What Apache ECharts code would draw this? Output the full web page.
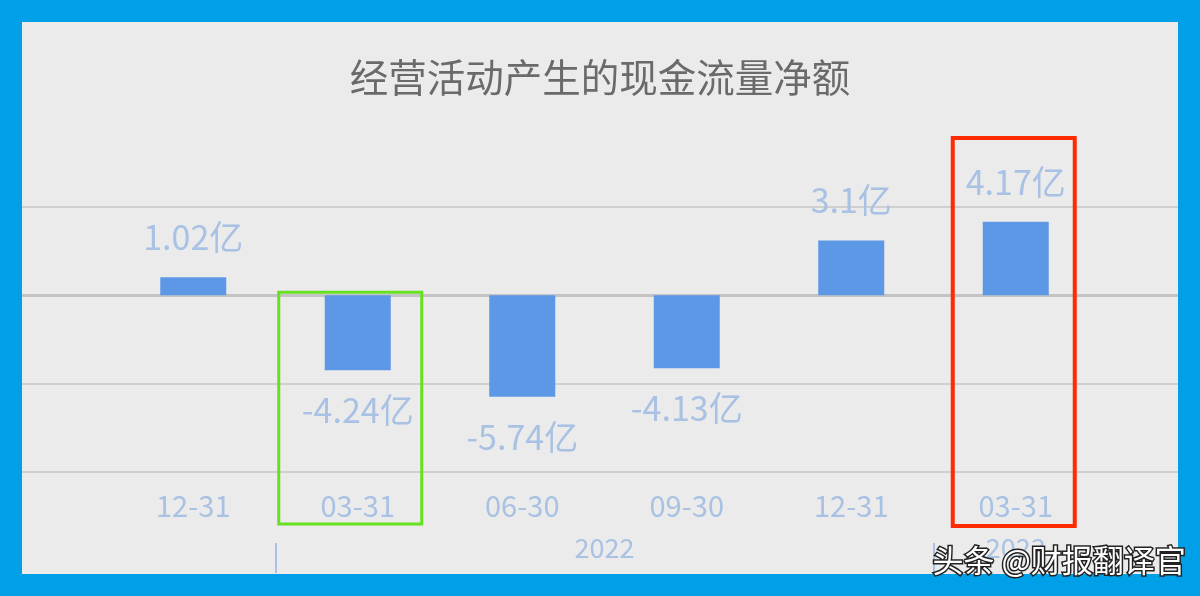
<!DOCTYPE html>
<html>
<head>
<meta charset="utf-8">
<script src="https://cdn.jsdelivr.net/npm/echarts@6/dist/echarts.min.js"></script>
<style>
html,body{margin:0;padding:0;background:#00a0e9;}
#c{width:1200px;height:596px;}
</style>
</head>
<body>
<div id="c"></div>
<script>
// ---- data ----
const chartTitle = '经营活动产生的现金流量净额';
const quarters = ['12-31', '03-31', '06-30', '09-30', '12-31', '03-31'];
const netCash = [1.02, -4.24, -5.74, -4.13, 3.1, 4.17]; // 亿
const yearNames = ['2022', '2023'];
const yearStart = [1, 5];   // first quarter index of the year group
const yearEnd = [5, 6];     // one past last quarter index
const yMin = -10, yMax = 5, yStep = 5;
const unit = '亿';

// ---- build secondary (year) axis on half-slots ----
const halfSlots = new Array(quarters.length * 2 + 1).fill('');
const tickSlots = new Set();
yearNames.forEach((y, i) => {
  halfSlots[yearStart[i] + yearEnd[i]] = y;
  tickSlots.add(yearStart[i] * 2);
});

const labelColor = '#a9c1e3';
const font = 'Noto Sans CJK SC';

const chart = echarts.init(document.getElementById('c'));
chart.setOption({
  backgroundColor: '#ebebeb',
  animation: false,
  title: {
    text: chartTitle,
    left: 'center',
    top: 53,
    textStyle: { fontSize: 38.5, fontWeight: 'normal', color: '#6a6a6a', fontFamily: font }
  },
  grid: [
    { left: 111, right: 102, top: 207, bottom: 124 },
    { left: 22, right: 22, top: 207, bottom: 124 }
  ],
  xAxis: [
    {
      type: 'category', gridIndex: 0, data: quarters,
      axisLine: { show: false }, axisTick: { show: false },
      axisLabel: { color: labelColor, fontSize: 29, fontFamily: font, margin: 19, interval: 0 }
    },
    {
      type: 'category', gridIndex: 0, data: halfSlots, boundaryGap: false,
      position: 'bottom', offset: 71,
      axisLine: { show: false },
      axisTick: { show: true, length: 30, interval: (i) => tickSlots.has(i),
        lineStyle: { color: labelColor, width: 2 } },
      axisLabel: { color: labelColor, fontSize: 27, fontFamily: font, margin: -9, interval: 0 }
    },
    { type: 'category', gridIndex: 1, data: quarters, show: false }
  ],
  yAxis: [
    { type: 'value', gridIndex: 0, min: yMin, max: yMax, interval: yStep,
      axisLabel: { show: false }, splitLine: { show: false }, axisLine: { show: false }, axisTick: { show: false } },
    { type: 'value', gridIndex: 1, min: yMin, max: yMax, interval: yStep,
      axisLabel: { show: false }, axisLine: { show: false }, axisTick: { show: false },
      splitLine: { show: true, lineStyle: { color: '#cfcfcf', width: 2 } } },
    { type: 'value', gridIndex: 1, min: yMin, max: yMax, interval: yStep,
      axisLabel: { show: false }, axisLine: { show: false }, axisTick: { show: false },
      splitLine: { show: true, lineStyle: { color: ['transparent', 'transparent', '#c4c4c4', 'transparent'], width: 3 } } }
  ],
  series: [{
    type: 'bar',
    xAxisIndex: 0, yAxisIndex: 0,
    barWidth: 66,
    itemStyle: { color: '#5d98e6' },
    data: netCash.map(v => ({ value: v, label: { position: v < 0 ? 'bottom' : 'top' } })),
    label: {
      show: true, distance: 23, color: labelColor, fontSize: 34, fontFamily: font,
      formatter: p => p.value + unit
    }
  }]
});

// ---- annotation boxes and frame ----
function px(i, v) { return chart.convertToPixel({ xAxisIndex: 0, yAxisIndex: 0 }, [i, v]); }
const g0 = px(1, 0), gB = px(1, yMin);
const r0 = px(5, 0), rT = px(5, yMax);
chart.setOption({
  graphic: [
    { type: 'rect', z: 100, silent: true,
      shape: { x: 11, y: 11, width: 1178, height: 574 },
      style: { fill: 'none', stroke: '#00a0e9', lineWidth: 22 } },
    { type: 'rect', z: 90, silent: true,
      shape: { x: g0[0] - 79, y: g0[1] - 3, width: 143, height: gB[1] + 52 - (g0[1] - 3) },
      style: { fill: 'none', stroke: '#66e020', lineWidth: 3 } },
    { type: 'rect', z: 90, silent: true,
      shape: { x: r0[0] - 63, y: rT[1] - 69, width: 122, height: gB[1] + 54 - (rT[1] - 69) },
      style: { fill: 'none', stroke: '#ff2a00', lineWidth: 4 } },
    { type: 'text', z: 110, silent: true, left: 931, top: 543,
      style: { text: '头条 @财报翻译官', fontSize: 31, fontFamily: font, fill: '#ffffff',
        stroke: '#222222', lineWidth: 3 } }
  ]
});
</script>
</body>
</html>
